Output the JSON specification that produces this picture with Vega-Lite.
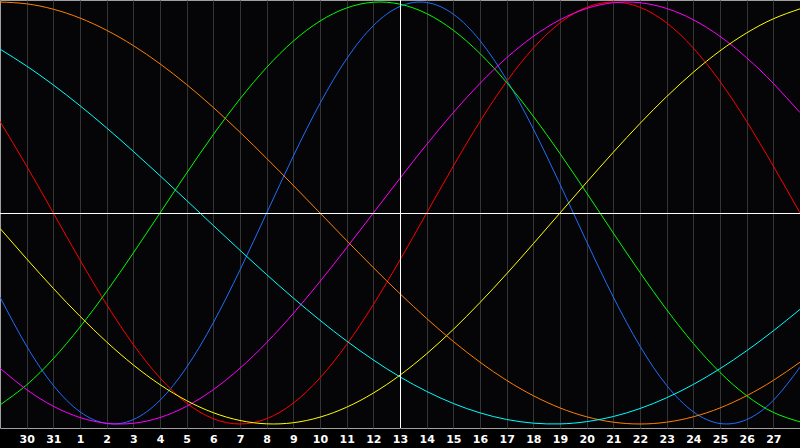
{
  "$schema": "https://vega.github.io/schema/vega-lite/v6.json",
  "width": 800,
  "height": 428,
  "autosize": {"type": "none"},
  "padding": {"left": 0, "top": 0, "right": 0, "bottom": 20},
  "background": "#000000",
  "config": {
    "view": {"fill": "#050507", "stroke": "#a0a0a0", "strokeWidth": 1},
    "axis": {
      "labelColor": "#ffffff",
      "labelFont": "DejaVu Sans",
      "labelFontWeight": "bold",
      "labelFontSize": 11,
      "gridColor": "#343434",
      "gridOpacity": 1
    }
  },
  "datasets": {
    "cycles": [
      {"d": 0, "physical": -0.3984, "emotional": 0.4339, "intellectual": -0.9096, "intuitive": -0.7357, "aesthetic": -0.073, "awareness": 1, "spiritual": 0.7767},
      {"d": 1, "physical": -0.6311, "emotional": 0.2225, "intellectual": -0.8146, "intuitive": -0.8372, "aesthetic": -0.2174, "awareness": 0.9914, "spiritual": 0.6965},
      {"d": 2, "physical": -0.817, "emotional": 0, "intellectual": -0.6901, "intuitive": -0.9158, "aesthetic": -0.3572, "awareness": 0.9659, "spiritual": 0.6068},
      {"d": 3, "physical": -0.9423, "emotional": -0.2225, "intellectual": -0.5406, "intuitive": -0.9694, "aesthetic": -0.4894, "awareness": 0.9239, "spiritual": 0.5085},
      {"d": 4, "physical": -0.9977, "emotional": -0.4339, "intellectual": -0.3717, "intuitive": -0.9966, "aesthetic": -0.6112, "awareness": 0.866, "spiritual": 0.4031},
      {"d": 5, "physical": -0.9791, "emotional": -0.6235, "intellectual": -0.1893, "intuitive": -0.9966, "aesthetic": -0.7202, "awareness": 0.7934, "spiritual": 0.292},
      {"d": 6, "physical": -0.8879, "emotional": -0.7818, "intellectual": 0, "intuitive": -0.9694, "aesthetic": -0.8135, "awareness": 0.7071, "spiritual": 0.1769},
      {"d": 7, "physical": -0.7308, "emotional": -0.901, "intellectual": 0.1893, "intuitive": -0.9158, "aesthetic": -0.8894, "awareness": 0.6088, "spiritual": 0.0592},
      {"d": 8, "physical": -0.5196, "emotional": -0.9749, "intellectual": 0.3717, "intuitive": -0.8372, "aesthetic": -0.9465, "awareness": 0.5, "spiritual": -0.0592},
      {"d": 9, "physical": -0.2698, "emotional": -1, "intellectual": 0.5406, "intuitive": -0.7357, "aesthetic": -0.9834, "awareness": 0.3827, "spiritual": -0.1769},
      {"d": 10, "physical": 0, "emotional": -0.9749, "intellectual": 0.6901, "intuitive": -0.6142, "aesthetic": -0.9993, "awareness": 0.2588, "spiritual": -0.292},
      {"d": 11, "physical": 0.2698, "emotional": -0.901, "intellectual": 0.8146, "intuitive": -0.4759, "aesthetic": -0.994, "awareness": 0.1305, "spiritual": -0.4031},
      {"d": 12, "physical": 0.5196, "emotional": -0.7818, "intellectual": 0.9096, "intuitive": -0.3247, "aesthetic": -0.9675, "awareness": 0, "spiritual": -0.5085},
      {"d": 13, "physical": 0.7308, "emotional": -0.6235, "intellectual": 0.9718, "intuitive": -0.1646, "aesthetic": -0.9204, "awareness": -0.1305, "spiritual": -0.6068},
      {"d": 14, "physical": 0.8879, "emotional": -0.4339, "intellectual": 0.9989, "intuitive": 0, "aesthetic": -0.8535, "awareness": -0.2588, "spiritual": -0.6965},
      {"d": 15, "physical": 0.9791, "emotional": -0.2225, "intellectual": 0.9898, "intuitive": 0.1646, "aesthetic": -0.7685, "awareness": -0.3827, "spiritual": -0.7767},
      {"d": 16, "physical": 0.9977, "emotional": 0, "intellectual": 0.945, "intuitive": 0.3247, "aesthetic": -0.6671, "awareness": -0.5, "spiritual": -0.8456},
      {"d": 17, "physical": 0.9423, "emotional": 0.2225, "intellectual": 0.866, "intuitive": 0.4759, "aesthetic": -0.5517, "awareness": -0.6088, "spiritual": -0.9028},
      {"d": 18, "physical": 0.817, "emotional": 0.4339, "intellectual": 0.7557, "intuitive": 0.6142, "aesthetic": -0.4244, "awareness": -0.7071, "spiritual": -0.9473},
      {"d": 19, "physical": 0.6311, "emotional": 0.6235, "intellectual": 0.6182, "intuitive": 0.7357, "aesthetic": -0.2881, "awareness": -0.7934, "spiritual": -0.9786},
      {"d": 20, "physical": 0.3984, "emotional": 0.7818, "intellectual": 0.4582, "intuitive": 0.8372, "aesthetic": -0.1456, "awareness": -0.866, "spiritual": -0.996},
      {"d": 21, "physical": 0.1362, "emotional": 0.901, "intellectual": 0.2817, "intuitive": 0.9158, "aesthetic": 0, "awareness": -0.9239, "spiritual": -0.9996},
      {"d": 22, "physical": -0.1362, "emotional": 0.9749, "intellectual": 0.0951, "intuitive": 0.9694, "aesthetic": 0.1456, "awareness": -0.9659, "spiritual": -0.989},
      {"d": 23, "physical": -0.3984, "emotional": 1, "intellectual": -0.0951, "intuitive": 0.9966, "aesthetic": 0.2881, "awareness": -0.9914, "spiritual": -0.9646},
      {"d": 24, "physical": -0.6311, "emotional": 0.9749, "intellectual": -0.2817, "intuitive": 0.9966, "aesthetic": 0.4244, "awareness": -1, "spiritual": -0.9267},
      {"d": 25, "physical": -0.817, "emotional": 0.901, "intellectual": -0.4582, "intuitive": 0.9694, "aesthetic": 0.5517, "awareness": -0.9914, "spiritual": -0.8757},
      {"d": 26, "physical": -0.9423, "emotional": 0.7818, "intellectual": -0.6182, "intuitive": 0.9158, "aesthetic": 0.6671, "awareness": -0.9659, "spiritual": -0.8126},
      {"d": 27, "physical": -0.9977, "emotional": 0.6235, "intellectual": -0.7557, "intuitive": 0.8372, "aesthetic": 0.7685, "awareness": -0.9239, "spiritual": -0.7378},
      {"d": 28, "physical": -0.9791, "emotional": 0.4339, "intellectual": -0.866, "intuitive": 0.7357, "aesthetic": 0.8535, "awareness": -0.866, "spiritual": -0.6528},
      {"d": 29, "physical": -0.8879, "emotional": 0.2225, "intellectual": -0.945, "intuitive": 0.6142, "aesthetic": 0.9204, "awareness": -0.7934, "spiritual": -0.5586},
      {"d": 30, "physical": -0.7308, "emotional": 0, "intellectual": -0.9898, "intuitive": 0.4759, "aesthetic": 0.9675, "awareness": -0.7071, "spiritual": -0.4566}
    ],
    "centre": [{"d": 15, "v": 0}]
  },
  "layer": [
    {
      "data": {"name": "cycles"},
      "transform": [
        {"fold": ["physical", "emotional", "intellectual", "intuitive", "aesthetic", "awareness", "spiritual"], "as": ["cycle", "v"]}
      ],
      "mark": {"type": "line", "interpolate": "natural", "strokeWidth": 1, "clip": true},
      "encoding": {
        "x": {
          "field": "d",
          "type": "quantitative",
          "scale": {"domain": [0, 30], "nice": false},
          "axis": {
            "title": null,
            "values": [1, 2, 3, 4, 5, 6, 7, 8, 9, 10, 11, 12, 13, 14, 15, 16, 17, 18, 19, 20, 21, 22, 23, 24, 25, 26, 27, 28, 29],
            "labelExpr": "datum.value <= 2 ? datum.value + 29 : datum.value - 2",
            "domain": false,
            "ticks": false,
            "grid": true,
            "labelPadding": 5,
            "labelFlush": false,
            "labelOverlap": false
          }
        },
        "y": {
          "field": "v",
          "type": "quantitative",
          "scale": {"domain": [-1.019, 1.0095], "nice": false, "zero": false},
          "axis": null
        },
        "color": {
          "field": "cycle",
          "type": "nominal",
          "sort": ["physical", "emotional", "intellectual", "intuitive", "aesthetic", "awareness", "spiritual"],
          "scale": {
            "domain": ["physical", "emotional", "intellectual", "intuitive", "aesthetic", "awareness", "spiritual"],
            "range": ["#1e6eff", "#ff0000", "#00ff00", "#ff00ff", "#ffff00", "#ff8000", "#00ffff"]
          },
          "legend": null
        }
      }
    },
    {
      "data": {"name": "centre"},
      "mark": {"type": "rule", "color": "#ffffff", "strokeWidth": 1, "xOffset": 0.5},
      "encoding": {
        "x": {
          "field": "d",
          "type": "quantitative",
          "scale": {"domain": [0, 30], "nice": false},
          "axis": {
            "title": null,
            "values": [1, 2, 3, 4, 5, 6, 7, 8, 9, 10, 11, 12, 13, 14, 15, 16, 17, 18, 19, 20, 21, 22, 23, 24, 25, 26, 27, 28, 29],
            "labelExpr": "datum.value <= 2 ? datum.value + 29 : datum.value - 2",
            "domain": false,
            "ticks": false,
            "grid": true,
            "labelPadding": 5,
            "labelFlush": false,
            "labelOverlap": false
          }
        }
      }
    },
    {
      "data": {"name": "centre"},
      "mark": {"type": "rule", "color": "#ffffff", "strokeWidth": 1, "yOffset": 0.5},
      "encoding": {
        "y": {
          "field": "v",
          "type": "quantitative",
          "scale": {"domain": [-1.019, 1.0095], "nice": false, "zero": false},
          "axis": null
        }
      }
    }
  ]
}
